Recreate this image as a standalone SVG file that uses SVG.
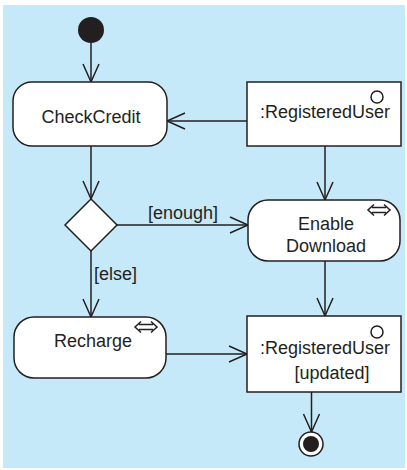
<svg xmlns="http://www.w3.org/2000/svg" width="407" height="470" viewBox="0 0 407 470">
<defs>
<style>
.bg{fill:#c6e9f9}
.node{fill:#ffffff;stroke:#231f20;stroke-width:1.5}
.ln{fill:none;stroke:#231f20;stroke-width:1.5}
.t{font-family:"Liberation Sans",Arial,sans-serif;font-size:18px;fill:#231f20}
.ic{fill:none;stroke:#231f20;stroke-width:1.5}
</style>
<marker id="arr" viewBox="0 0 20 18" refX="19" refY="9" markerWidth="20" markerHeight="18" markerUnits="userSpaceOnUse" orient="auto" overflow="visible">
<path d="M1,1 L19,9 L1,17" fill="none" stroke="#231f20" stroke-width="1.5"/>
</marker>
</defs>
<rect class="bg" x="3" y="5" width="402" height="463"/>
<g id="connectors">
<line class="ln" x1="91" y1="43" x2="91" y2="82" marker-end="url(#arr)"/>
<line class="ln" x1="247" y1="121" x2="167" y2="121" marker-end="url(#arr)"/>
<line class="ln" x1="91" y1="146" x2="91" y2="199" marker-end="url(#arr)"/>
<line class="ln" x1="325" y1="146" x2="325" y2="200" marker-end="url(#arr)"/>
<line class="ln" x1="117" y1="225" x2="248" y2="225" marker-end="url(#arr)"/>
<text class="t" x="148" y="219">[enough]</text>
<line class="ln" x1="91" y1="251" x2="91" y2="317" marker-end="url(#arr)"/>
<text class="t" x="94" y="280">[else]</text>
<line class="ln" x1="325" y1="261" x2="325" y2="316" marker-end="url(#arr)"/>
<line class="ln" x1="166" y1="354" x2="247" y2="354" marker-end="url(#arr)"/>
<line class="ln" x1="311.5" y1="392" x2="311.5" y2="432" marker-end="url(#arr)"/>
</g>
<g id="initial">
<circle cx="91" cy="30" r="13" fill="#231f20"/>
</g>
<g id="checkcredit">
<rect class="node" x="13" y="82" width="154" height="64" rx="19"/>
<text class="t" x="91" y="123" text-anchor="middle">CheckCredit</text>
</g>
<g id="registereduser1">
<rect class="node" x="247" y="82" width="154" height="64"/>
<circle class="ic" cx="377" cy="97" r="6"/>
<text class="t" x="325" y="118" text-anchor="middle">:RegisteredUser</text>
</g>
<g id="decision">
<polygon class="node" points="91,199 117,225 91,251 65,225"/>
</g>
<g id="enabledownload">
<rect class="node" x="248" y="200" width="152" height="61" rx="20"/>
<path class="ic" d="M372,207.5 H386 M372,212.5 H386 M374,204.5 L368,210 L374,215.5 M384,204.5 L390,210 L384,215.5"/>
<text class="t" x="326" y="230" text-anchor="middle">Enable</text>
<text class="t" x="326" y="252" text-anchor="middle">Download</text>
</g>
<g id="recharge">
<rect class="node" x="14" y="317" width="152" height="61" rx="20"/>
<path class="ic" d="M139,324.5 H153 M139,329.5 H153 M141,321.5 L135,327 L141,332.5 M151,321.5 L157,327 L151,332.5"/>
<text class="t" x="93" y="347" text-anchor="middle">Recharge</text>
</g>
<g id="registereduser2">
<rect class="node" x="247" y="316" width="154" height="76"/>
<circle class="ic" cx="377" cy="332" r="6"/>
<text class="t" x="325" y="354" text-anchor="middle">:RegisteredUser</text>
<text class="t" x="332" y="379" text-anchor="middle">[updated]</text>
</g>
<g id="final">
<circle cx="311" cy="444" r="12" fill="#ffffff" stroke="#231f20" stroke-width="1.5"/>
<circle cx="311" cy="444" r="8" fill="#231f20"/>
</g>
</svg>
